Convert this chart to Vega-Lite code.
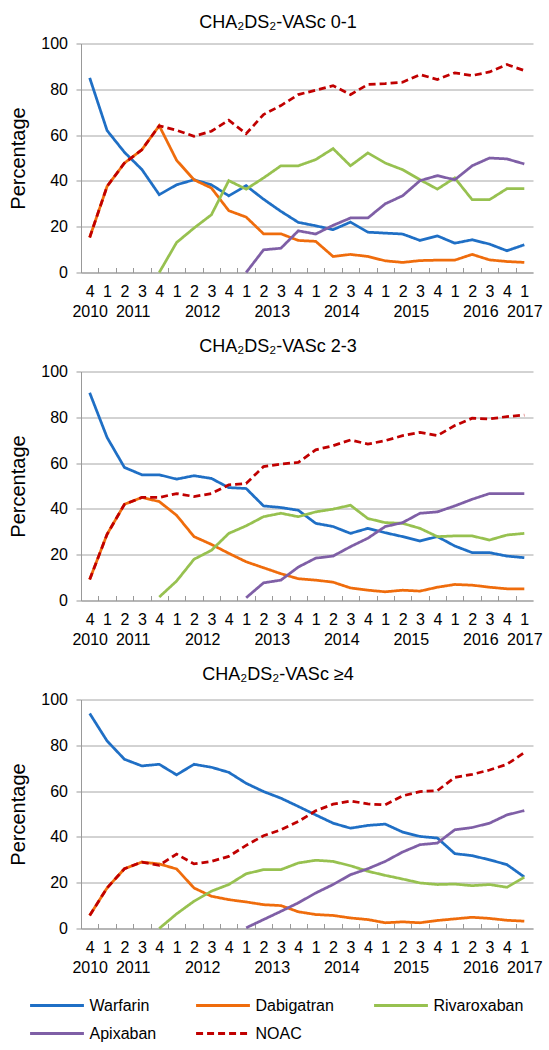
{
  "$schema": "https://vega.github.io/schema/vega-lite/v6.json",
  "autosize": {"type": "none"},
  "padding": {"left": 81, "top": 43.5, "right": 468, "bottom": 1006.5},
  "background": "white",
  "spacing": 99,
  "bounds": "flush",
  "config": {
    "font": "Liberation Sans",
    "view": {"stroke": null},
    "axis": {"labelColor": "#000000", "titleColor": "#000000"},
    "title": {"color": "#000000", "fontWeight": "normal"}
  },
  "datasets": {
    "p1": [
      {"q":"2010Q4","d":"Warfarin","v":85},{"q":"2011Q1","d":"Warfarin","v":62},{"q":"2011Q2","d":"Warfarin","v":52.5},{"q":"2011Q3","d":"Warfarin","v":45},{"q":"2011Q4","d":"Warfarin","v":34},{"q":"2012Q1","d":"Warfarin","v":38.3},{"q":"2012Q2","d":"Warfarin","v":40.5},{"q":"2012Q3","d":"Warfarin","v":38.3},{"q":"2012Q4","d":"Warfarin","v":33.5},{"q":"2013Q1","d":"Warfarin","v":37.9},{"q":"2013Q2","d":"Warfarin","v":32},{"q":"2013Q3","d":"Warfarin","v":26.7},{"q":"2013Q4","d":"Warfarin","v":21.9},{"q":"2014Q1","d":"Warfarin","v":20.4},{"q":"2014Q2","d":"Warfarin","v":18.7},{"q":"2014Q3","d":"Warfarin","v":22},{"q":"2014Q4","d":"Warfarin","v":17.6},{"q":"2015Q1","d":"Warfarin","v":17.2},{"q":"2015Q2","d":"Warfarin","v":16.8},{"q":"2015Q3","d":"Warfarin","v":14},{"q":"2015Q4","d":"Warfarin","v":16},{"q":"2016Q1","d":"Warfarin","v":12.8},{"q":"2016Q2","d":"Warfarin","v":14.3},{"q":"2016Q3","d":"Warfarin","v":12.4},{"q":"2016Q4","d":"Warfarin","v":9.5},{"q":"2017Q1","d":"Warfarin","v":12.1},
      {"q":"2010Q4","d":"Dabigatran","v":15.3},{"q":"2011Q1","d":"Dabigatran","v":37.6},{"q":"2011Q2","d":"Dabigatran","v":47.8},{"q":"2011Q3","d":"Dabigatran","v":53.6},{"q":"2011Q4","d":"Dabigatran","v":64.1},{"q":"2012Q1","d":"Dabigatran","v":49},{"q":"2012Q2","d":"Dabigatran","v":40.5},{"q":"2012Q3","d":"Dabigatran","v":36.9},{"q":"2012Q4","d":"Dabigatran","v":27},{"q":"2013Q1","d":"Dabigatran","v":24.2},{"q":"2013Q2","d":"Dabigatran","v":16.9},{"q":"2013Q3","d":"Dabigatran","v":16.9},{"q":"2013Q4","d":"Dabigatran","v":14},{"q":"2014Q1","d":"Dabigatran","v":13.6},{"q":"2014Q2","d":"Dabigatran","v":7},{"q":"2014Q3","d":"Dabigatran","v":7.9},{"q":"2014Q4","d":"Dabigatran","v":7},{"q":"2015Q1","d":"Dabigatran","v":5.1},{"q":"2015Q2","d":"Dabigatran","v":4.4},{"q":"2015Q3","d":"Dabigatran","v":5.2},{"q":"2015Q4","d":"Dabigatran","v":5.4},{"q":"2016Q1","d":"Dabigatran","v":5.4},{"q":"2016Q2","d":"Dabigatran","v":7.9},{"q":"2016Q3","d":"Dabigatran","v":5.5},{"q":"2016Q4","d":"Dabigatran","v":4.8},{"q":"2017Q1","d":"Dabigatran","v":4.4},
      {"q":"2011Q4","d":"Rivaroxaban","v":0},{"q":"2012Q1","d":"Rivaroxaban","v":13.1},{"q":"2012Q2","d":"Rivaroxaban","v":19.4},{"q":"2012Q3","d":"Rivaroxaban","v":25.2},{"q":"2012Q4","d":"Rivaroxaban","v":40.1},{"q":"2013Q1","d":"Rivaroxaban","v":36.4},{"q":"2013Q2","d":"Rivaroxaban","v":41.3},{"q":"2013Q3","d":"Rivaroxaban","v":46.6},{"q":"2013Q4","d":"Rivaroxaban","v":46.6},{"q":"2014Q1","d":"Rivaroxaban","v":49.3},{"q":"2014Q2","d":"Rivaroxaban","v":54.1},{"q":"2014Q3","d":"Rivaroxaban","v":46.6},{"q":"2014Q4","d":"Rivaroxaban","v":52.2},{"q":"2015Q1","d":"Rivaroxaban","v":47.8},{"q":"2015Q2","d":"Rivaroxaban","v":44.9},{"q":"2015Q3","d":"Rivaroxaban","v":40.5},{"q":"2015Q4","d":"Rivaroxaban","v":36.4},{"q":"2016Q1","d":"Rivaroxaban","v":41.3},{"q":"2016Q2","d":"Rivaroxaban","v":31.8},{"q":"2016Q3","d":"Rivaroxaban","v":31.8},{"q":"2016Q4","d":"Rivaroxaban","v":36.6},{"q":"2017Q1","d":"Rivaroxaban","v":36.6},
      {"q":"2013Q1","d":"Apixaban","v":0},{"q":"2013Q2","d":"Apixaban","v":9.9},{"q":"2013Q3","d":"Apixaban","v":10.6},{"q":"2013Q4","d":"Apixaban","v":18.2},{"q":"2014Q1","d":"Apixaban","v":16.8},{"q":"2014Q2","d":"Apixaban","v":20.6},{"q":"2014Q3","d":"Apixaban","v":23.8},{"q":"2014Q4","d":"Apixaban","v":23.8},{"q":"2015Q1","d":"Apixaban","v":30},{"q":"2015Q2","d":"Apixaban","v":33.5},{"q":"2015Q3","d":"Apixaban","v":40.1},{"q":"2015Q4","d":"Apixaban","v":42.3},{"q":"2016Q1","d":"Apixaban","v":40.5},{"q":"2016Q2","d":"Apixaban","v":46.6},{"q":"2016Q3","d":"Apixaban","v":50},{"q":"2016Q4","d":"Apixaban","v":49.6},{"q":"2017Q1","d":"Apixaban","v":47.4},
      {"q":"2010Q4","d":"NOAC","v":15.3},{"q":"2011Q1","d":"NOAC","v":37.6},{"q":"2011Q2","d":"NOAC","v":47.8},{"q":"2011Q3","d":"NOAC","v":53.6},{"q":"2011Q4","d":"NOAC","v":64.1},{"q":"2012Q1","d":"NOAC","v":62.1},{"q":"2012Q2","d":"NOAC","v":59.5},{"q":"2012Q3","d":"NOAC","v":61.7},{"q":"2012Q4","d":"NOAC","v":66.5},{"q":"2013Q1","d":"NOAC","v":60.6},{"q":"2013Q2","d":"NOAC","v":69},{"q":"2013Q3","d":"NOAC","v":72.9},{"q":"2013Q4","d":"NOAC","v":77.7},{"q":"2014Q1","d":"NOAC","v":79.6},{"q":"2014Q2","d":"NOAC","v":81.6},{"q":"2014Q3","d":"NOAC","v":77.7},{"q":"2014Q4","d":"NOAC","v":82.1},{"q":"2015Q1","d":"NOAC","v":82.5},{"q":"2015Q2","d":"NOAC","v":83.1},{"q":"2015Q3","d":"NOAC","v":86.4},{"q":"2015Q4","d":"NOAC","v":84.3},{"q":"2016Q1","d":"NOAC","v":87.2},{"q":"2016Q2","d":"NOAC","v":86},{"q":"2016Q3","d":"NOAC","v":87.6},{"q":"2016Q4","d":"NOAC","v":90.8},{"q":"2017Q1","d":"NOAC","v":88.2}
    ],
    "p2": [
      {"q":"2010Q4","d":"Warfarin","v":90.7},{"q":"2011Q1","d":"Warfarin","v":71.2},{"q":"2011Q2","d":"Warfarin","v":58.1},{"q":"2011Q3","d":"Warfarin","v":54.9},{"q":"2011Q4","d":"Warfarin","v":54.9},{"q":"2012Q1","d":"Warfarin","v":53},{"q":"2012Q2","d":"Warfarin","v":54.5},{"q":"2012Q3","d":"Warfarin","v":53.3},{"q":"2012Q4","d":"Warfarin","v":49.3},{"q":"2013Q1","d":"Warfarin","v":48.9},{"q":"2013Q2","d":"Warfarin","v":41.3},{"q":"2013Q3","d":"Warfarin","v":40.6},{"q":"2013Q4","d":"Warfarin","v":39.4},{"q":"2014Q1","d":"Warfarin","v":33.7},{"q":"2014Q2","d":"Warfarin","v":32.3},{"q":"2014Q3","d":"Warfarin","v":29.3},{"q":"2014Q4","d":"Warfarin","v":31.5},{"q":"2015Q1","d":"Warfarin","v":29.6},{"q":"2015Q2","d":"Warfarin","v":27.9},{"q":"2015Q3","d":"Warfarin","v":26},{"q":"2015Q4","d":"Warfarin","v":27.9},{"q":"2016Q1","d":"Warfarin","v":23.8},{"q":"2016Q2","d":"Warfarin","v":20.9},{"q":"2016Q3","d":"Warfarin","v":20.9},{"q":"2016Q4","d":"Warfarin","v":19.4},{"q":"2017Q1","d":"Warfarin","v":18.7},
      {"q":"2010Q4","d":"Dabigatran","v":9.2},{"q":"2011Q1","d":"Dabigatran","v":28.9},{"q":"2011Q2","d":"Dabigatran","v":42},{"q":"2011Q3","d":"Dabigatran","v":45},{"q":"2011Q4","d":"Dabigatran","v":43.2},{"q":"2012Q1","d":"Dabigatran","v":37.2},{"q":"2012Q2","d":"Dabigatran","v":27.9},{"q":"2012Q3","d":"Dabigatran","v":24.5},{"q":"2012Q4","d":"Dabigatran","v":20.6},{"q":"2013Q1","d":"Dabigatran","v":16.9},{"q":"2013Q2","d":"Dabigatran","v":14.3},{"q":"2013Q3","d":"Dabigatran","v":11.7},{"q":"2013Q4","d":"Dabigatran","v":9.5},{"q":"2014Q1","d":"Dabigatran","v":8.9},{"q":"2014Q2","d":"Dabigatran","v":8},{"q":"2014Q3","d":"Dabigatran","v":5.5},{"q":"2014Q4","d":"Dabigatran","v":4.5},{"q":"2015Q1","d":"Dabigatran","v":3.8},{"q":"2015Q2","d":"Dabigatran","v":4.5},{"q":"2015Q3","d":"Dabigatran","v":4.1},{"q":"2015Q4","d":"Dabigatran","v":5.8},{"q":"2016Q1","d":"Dabigatran","v":7},{"q":"2016Q2","d":"Dabigatran","v":6.7},{"q":"2016Q3","d":"Dabigatran","v":5.8},{"q":"2016Q4","d":"Dabigatran","v":5.1},{"q":"2017Q1","d":"Dabigatran","v":5.1},
      {"q":"2011Q4","d":"Rivaroxaban","v":1.5},{"q":"2012Q1","d":"Rivaroxaban","v":8.5},{"q":"2012Q2","d":"Rivaroxaban","v":18},{"q":"2012Q3","d":"Rivaroxaban","v":21.9},{"q":"2012Q4","d":"Rivaroxaban","v":29.3},{"q":"2013Q1","d":"Rivaroxaban","v":32.6},{"q":"2013Q2","d":"Rivaroxaban","v":36.6},{"q":"2013Q3","d":"Rivaroxaban","v":38.1},{"q":"2013Q4","d":"Rivaroxaban","v":36.6},{"q":"2014Q1","d":"Rivaroxaban","v":38.7},{"q":"2014Q2","d":"Rivaroxaban","v":39.9},{"q":"2014Q3","d":"Rivaroxaban","v":41.6},{"q":"2014Q4","d":"Rivaroxaban","v":35.8},{"q":"2015Q1","d":"Rivaroxaban","v":34},{"q":"2015Q2","d":"Rivaroxaban","v":33.7},{"q":"2015Q3","d":"Rivaroxaban","v":31.5},{"q":"2015Q4","d":"Rivaroxaban","v":27.9},{"q":"2016Q1","d":"Rivaroxaban","v":28.2},{"q":"2016Q2","d":"Rivaroxaban","v":28.2},{"q":"2016Q3","d":"Rivaroxaban","v":26.4},{"q":"2016Q4","d":"Rivaroxaban","v":28.6},{"q":"2017Q1","d":"Rivaroxaban","v":29.3},
      {"q":"2013Q1","d":"Apixaban","v":1.2},{"q":"2013Q2","d":"Apixaban","v":7.7},{"q":"2013Q3","d":"Apixaban","v":8.9},{"q":"2013Q4","d":"Apixaban","v":14.6},{"q":"2014Q1","d":"Apixaban","v":18.5},{"q":"2014Q2","d":"Apixaban","v":19.4},{"q":"2014Q3","d":"Apixaban","v":23.5},{"q":"2014Q4","d":"Apixaban","v":27.2},{"q":"2015Q1","d":"Apixaban","v":32.3},{"q":"2015Q2","d":"Apixaban","v":34},{"q":"2015Q3","d":"Apixaban","v":38.1},{"q":"2015Q4","d":"Apixaban","v":38.7},{"q":"2016Q1","d":"Apixaban","v":41.3},{"q":"2016Q2","d":"Apixaban","v":44.2},{"q":"2016Q3","d":"Apixaban","v":46.7},{"q":"2016Q4","d":"Apixaban","v":46.7},{"q":"2017Q1","d":"Apixaban","v":46.7},
      {"q":"2010Q4","d":"NOAC","v":9.2},{"q":"2011Q1","d":"NOAC","v":28.9},{"q":"2011Q2","d":"NOAC","v":42},{"q":"2011Q3","d":"NOAC","v":45},{"q":"2011Q4","d":"NOAC","v":45},{"q":"2012Q1","d":"NOAC","v":46.7},{"q":"2012Q2","d":"NOAC","v":45.4},{"q":"2012Q3","d":"NOAC","v":46.7},{"q":"2012Q4","d":"NOAC","v":50.5},{"q":"2013Q1","d":"NOAC","v":51.1},{"q":"2013Q2","d":"NOAC","v":58.5},{"q":"2013Q3","d":"NOAC","v":59.6},{"q":"2013Q4","d":"NOAC","v":60.3},{"q":"2014Q1","d":"NOAC","v":65.8},{"q":"2014Q2","d":"NOAC","v":67.6},{"q":"2014Q3","d":"NOAC","v":70.1},{"q":"2014Q4","d":"NOAC","v":68.3},{"q":"2015Q1","d":"NOAC","v":69.8},{"q":"2015Q2","d":"NOAC","v":72},{"q":"2015Q3","d":"NOAC","v":73.4},{"q":"2015Q4","d":"NOAC","v":72},{"q":"2016Q1","d":"NOAC","v":76.4},{"q":"2016Q2","d":"NOAC","v":79.6},{"q":"2016Q3","d":"NOAC","v":79.3},{"q":"2016Q4","d":"NOAC","v":80.3},{"q":"2017Q1","d":"NOAC","v":81}
    ],
    "p3": [
      {"q":"2010Q4","d":"Warfarin","v":93.9},{"q":"2011Q1","d":"Warfarin","v":81.9},{"q":"2011Q2","d":"Warfarin","v":73.9},{"q":"2011Q3","d":"Warfarin","v":71},{"q":"2011Q4","d":"Warfarin","v":71.7},{"q":"2012Q1","d":"Warfarin","v":67.1},{"q":"2012Q2","d":"Warfarin","v":71.7},{"q":"2012Q3","d":"Warfarin","v":70.4},{"q":"2012Q4","d":"Warfarin","v":68.2},{"q":"2013Q1","d":"Warfarin","v":63.4},{"q":"2013Q2","d":"Warfarin","v":59.8},{"q":"2013Q3","d":"Warfarin","v":56.9},{"q":"2013Q4","d":"Warfarin","v":53.3},{"q":"2014Q1","d":"Warfarin","v":49.6},{"q":"2014Q2","d":"Warfarin","v":46},{"q":"2014Q3","d":"Warfarin","v":43.8},{"q":"2014Q4","d":"Warfarin","v":45},{"q":"2015Q1","d":"Warfarin","v":45.6},{"q":"2015Q2","d":"Warfarin","v":42.1},{"q":"2015Q3","d":"Warfarin","v":40.2},{"q":"2015Q4","d":"Warfarin","v":39.5},{"q":"2016Q1","d":"Warfarin","v":32.7},{"q":"2016Q2","d":"Warfarin","v":31.8},{"q":"2016Q3","d":"Warfarin","v":30},{"q":"2016Q4","d":"Warfarin","v":27.9},{"q":"2017Q1","d":"Warfarin","v":22.5},
      {"q":"2010Q4","d":"Dabigatran","v":5.7},{"q":"2011Q1","d":"Dabigatran","v":17.7},{"q":"2011Q2","d":"Dabigatran","v":26.1},{"q":"2011Q3","d":"Dabigatran","v":29},{"q":"2011Q4","d":"Dabigatran","v":28.2},{"q":"2012Q1","d":"Dabigatran","v":26},{"q":"2012Q2","d":"Dabigatran","v":17.7},{"q":"2012Q3","d":"Dabigatran","v":14.1},{"q":"2012Q4","d":"Dabigatran","v":12.6},{"q":"2013Q1","d":"Dabigatran","v":11.6},{"q":"2013Q2","d":"Dabigatran","v":10.4},{"q":"2013Q3","d":"Dabigatran","v":10},{"q":"2013Q4","d":"Dabigatran","v":7.3},{"q":"2014Q1","d":"Dabigatran","v":6.1},{"q":"2014Q2","d":"Dabigatran","v":5.7},{"q":"2014Q3","d":"Dabigatran","v":4.6},{"q":"2014Q4","d":"Dabigatran","v":3.9},{"q":"2015Q1","d":"Dabigatran","v":2.5},{"q":"2015Q2","d":"Dabigatran","v":2.9},{"q":"2015Q3","d":"Dabigatran","v":2.5},{"q":"2015Q4","d":"Dabigatran","v":3.5},{"q":"2016Q1","d":"Dabigatran","v":4.2},{"q":"2016Q2","d":"Dabigatran","v":4.9},{"q":"2016Q3","d":"Dabigatran","v":4.4},{"q":"2016Q4","d":"Dabigatran","v":3.6},{"q":"2017Q1","d":"Dabigatran","v":3.2},
      {"q":"2011Q4","d":"Rivaroxaban","v":0},{"q":"2012Q1","d":"Rivaroxaban","v":6.4},{"q":"2012Q2","d":"Rivaroxaban","v":11.9},{"q":"2012Q3","d":"Rivaroxaban","v":16.3},{"q":"2012Q4","d":"Rivaroxaban","v":19.2},{"q":"2013Q1","d":"Rivaroxaban","v":23.9},{"q":"2013Q2","d":"Rivaroxaban","v":25.7},{"q":"2013Q3","d":"Rivaroxaban","v":25.7},{"q":"2013Q4","d":"Rivaroxaban","v":28.6},{"q":"2014Q1","d":"Rivaroxaban","v":29.8},{"q":"2014Q2","d":"Rivaroxaban","v":29.3},{"q":"2014Q3","d":"Rivaroxaban","v":27.4},{"q":"2014Q4","d":"Rivaroxaban","v":25},{"q":"2015Q1","d":"Rivaroxaban","v":23.2},{"q":"2015Q2","d":"Rivaroxaban","v":21.6},{"q":"2015Q3","d":"Rivaroxaban","v":19.9},{"q":"2015Q4","d":"Rivaroxaban","v":19.2},{"q":"2016Q1","d":"Rivaroxaban","v":19.4},{"q":"2016Q2","d":"Rivaroxaban","v":18.7},{"q":"2016Q3","d":"Rivaroxaban","v":19.2},{"q":"2016Q4","d":"Rivaroxaban","v":18},{"q":"2017Q1","d":"Rivaroxaban","v":22.4},
      {"q":"2013Q1","d":"Apixaban","v":0.3},{"q":"2013Q2","d":"Apixaban","v":3.9},{"q":"2013Q3","d":"Apixaban","v":7.5},{"q":"2013Q4","d":"Apixaban","v":11.2},{"q":"2014Q1","d":"Apixaban","v":15.5},{"q":"2014Q2","d":"Apixaban","v":19.2},{"q":"2014Q3","d":"Apixaban","v":23.5},{"q":"2014Q4","d":"Apixaban","v":26.1},{"q":"2015Q1","d":"Apixaban","v":29.3},{"q":"2015Q2","d":"Apixaban","v":33.4},{"q":"2015Q3","d":"Apixaban","v":36.6},{"q":"2015Q4","d":"Apixaban","v":37.3},{"q":"2016Q1","d":"Apixaban","v":43.1},{"q":"2016Q2","d":"Apixaban","v":44.1},{"q":"2016Q3","d":"Apixaban","v":46},{"q":"2016Q4","d":"Apixaban","v":49.6},{"q":"2017Q1","d":"Apixaban","v":51.5},
      {"q":"2010Q4","d":"NOAC","v":5.7},{"q":"2011Q1","d":"NOAC","v":17.7},{"q":"2011Q2","d":"NOAC","v":26.1},{"q":"2011Q3","d":"NOAC","v":29},{"q":"2011Q4","d":"NOAC","v":27.6},{"q":"2012Q1","d":"NOAC","v":32.5},{"q":"2012Q2","d":"NOAC","v":28.2},{"q":"2012Q3","d":"NOAC","v":29.3},{"q":"2012Q4","d":"NOAC","v":31.5},{"q":"2013Q1","d":"NOAC","v":36.3},{"q":"2013Q2","d":"NOAC","v":40.5},{"q":"2013Q3","d":"NOAC","v":43.1},{"q":"2013Q4","d":"NOAC","v":46.7},{"q":"2014Q1","d":"NOAC","v":51.4},{"q":"2014Q2","d":"NOAC","v":54.3},{"q":"2014Q3","d":"NOAC","v":55.7},{"q":"2014Q4","d":"NOAC","v":54.4},{"q":"2015Q1","d":"NOAC","v":54},{"q":"2015Q2","d":"NOAC","v":57.9},{"q":"2015Q3","d":"NOAC","v":59.8},{"q":"2015Q4","d":"NOAC","v":60.2},{"q":"2016Q1","d":"NOAC","v":66},{"q":"2016Q2","d":"NOAC","v":67.3},{"q":"2016Q3","d":"NOAC","v":69.2},{"q":"2016Q4","d":"NOAC","v":71.7},{"q":"2017Q1","d":"NOAC","v":76.8}
    ]
  },
  "resolve": {"scale": {"x": "independent", "y": "independent", "color": "independent", "strokeDash": "independent"}},
  "vconcat": [
    {
      "width": 452, "height": 229,
      "title": {"text": "CHA₂DS₂-VASc 0-1", "fontSize": 18, "anchor": "middle", "frame": "group", "offset": 4, "dx": -29},
      "data": {"name": "p1"},
      "resolve": {"axis": {"x": "independent"}},
      "layer": [
        {
          "mark": {"type": "line", "strokeWidth": 2.75},
          "encoding": {
            "x": {"field": "q", "type": "ordinal",
              "scale": {"type": "band", "paddingInner": 0, "paddingOuter": 0},
              "axis": {"orient": "bottom", "title": null, "labelExpr": "[slice(datum.value, 5), (datum.value == '2010Q4' || datum.value == '2017Q1') ? slice(datum.value, 0, 4) : '']", "labelLineHeight": 20, "labelAngle": 0, "labelOverlap": false, "tickOffset": -8.69, "labelOffset": 8.69, "tickSize": -5, "tickColor": "#999999", "domainColor": "#999999", "labelPadding": 16, "labelFontSize": 16, "grid": false}},
            "y": {"field": "v", "type": "quantitative",
              "scale": {"domain": [0, 100]},
              "axis": {"orient": "left", "tickCount": 5, "tickSize": 5, "labelPadding": 8.5, "labelFontSize": 16, "title": "Percentage", "titleFontSize": 20, "titleFontWeight": "normal", "titlePadding": 12, "grid": true, "gridColor": "#a6a6a6", "domainColor": "#999999", "tickColor": "#999999"}},
            "color": {"field": "d", "type": "nominal", "scale": {"domain": ["Warfarin","Dabigatran","Rivaroxaban","Apixaban","NOAC"], "range": ["#1f6fc5","#ef6c0c","#97c150","#7f5fa6","#c00000"]}, "legend": null},
            "strokeDash": {"field": "d", "type": "nominal", "scale": {"domain": ["Warfarin","Dabigatran","Rivaroxaban","Apixaban","NOAC"], "range": [[1,0],[1,0],[1,0],[1,0],[7,4]]}, "legend": null}
          }
        },
        {
          "mark": {"type": "line", "opacity": 0},
          "encoding": {
            "x": {"field": "q", "type": "ordinal",
              "axis": {"orient": "bottom", "title": null, "labelExpr": "slice(datum.value, 4) == 'Q2' ? slice(datum.value, 0, 4) : ''", "labelAngle": 0, "labelOverlap": false, "domain": false, "ticks": false, "tickSize": 0, "grid": false, "labelPadding": 31, "labelOffset": 8.69, "labelFontSize": 16}},
            "y": {"field": "v", "type": "quantitative"},
            "detail": {"field": "d", "type": "nominal"}
          }
        }
      ]
    },
    {
      "width": 452, "height": 229,
      "title": {"text": "CHA₂DS₂-VASc 2-3", "fontSize": 18, "anchor": "middle", "frame": "group", "offset": 8, "dx": -29},
      "data": {"name": "p2"},
      "resolve": {"axis": {"x": "independent"}},
      "layer": [
        {
          "mark": {"type": "line", "strokeWidth": 2.75},
          "encoding": {
            "x": {"field": "q", "type": "ordinal",
              "scale": {"type": "band", "paddingInner": 0, "paddingOuter": 0},
              "axis": {"orient": "bottom", "title": null, "labelExpr": "[slice(datum.value, 5), (datum.value == '2010Q4' || datum.value == '2017Q1') ? slice(datum.value, 0, 4) : '']", "labelLineHeight": 20, "labelAngle": 0, "labelOverlap": false, "tickOffset": -8.69, "labelOffset": 8.69, "tickSize": -5, "tickColor": "#999999", "domainColor": "#999999", "labelPadding": 16, "labelFontSize": 16, "grid": false}},
            "y": {"field": "v", "type": "quantitative",
              "scale": {"domain": [0, 100]},
              "axis": {"orient": "left", "tickCount": 5, "tickSize": 5, "labelPadding": 8.5, "labelFontSize": 16, "title": "Percentage", "titleFontSize": 20, "titleFontWeight": "normal", "titlePadding": 12, "grid": true, "gridColor": "#a6a6a6", "domainColor": "#999999", "tickColor": "#999999"}},
            "color": {"field": "d", "type": "nominal", "scale": {"domain": ["Warfarin","Dabigatran","Rivaroxaban","Apixaban","NOAC"], "range": ["#1f6fc5","#ef6c0c","#97c150","#7f5fa6","#c00000"]}, "legend": null},
            "strokeDash": {"field": "d", "type": "nominal", "scale": {"domain": ["Warfarin","Dabigatran","Rivaroxaban","Apixaban","NOAC"], "range": [[1,0],[1,0],[1,0],[1,0],[7,4]]}, "legend": null}
          }
        },
        {
          "mark": {"type": "line", "opacity": 0},
          "encoding": {
            "x": {"field": "q", "type": "ordinal",
              "axis": {"orient": "bottom", "title": null, "labelExpr": "slice(datum.value, 4) == 'Q2' ? slice(datum.value, 0, 4) : ''", "labelAngle": 0, "labelOverlap": false, "domain": false, "ticks": false, "tickSize": 0, "grid": false, "labelPadding": 31, "labelOffset": 8.69, "labelFontSize": 16}},
            "y": {"field": "v", "type": "quantitative"},
            "detail": {"field": "d", "type": "nominal"}
          }
        }
      ]
    },
    {
      "width": 452, "height": 229,
      "title": {"text": "CHA₂DS₂-VASc ≥4", "fontSize": 18, "anchor": "middle", "frame": "group", "offset": 8, "dx": -29},
      "data": {"name": "p3"},
      "resolve": {"axis": {"x": "independent"}},
      "layer": [
        {
          "mark": {"type": "line", "strokeWidth": 2.75},
          "encoding": {
            "x": {"field": "q", "type": "ordinal",
              "scale": {"type": "band", "paddingInner": 0, "paddingOuter": 0},
              "axis": {"orient": "bottom", "title": null, "labelExpr": "[slice(datum.value, 5), (datum.value == '2010Q4' || datum.value == '2017Q1') ? slice(datum.value, 0, 4) : '']", "labelLineHeight": 20, "labelAngle": 0, "labelOverlap": false, "tickOffset": -8.69, "labelOffset": 8.69, "tickSize": -5, "tickColor": "#999999", "domainColor": "#999999", "labelPadding": 16, "labelFontSize": 16, "grid": false}},
            "y": {"field": "v", "type": "quantitative",
              "scale": {"domain": [0, 100]},
              "axis": {"orient": "left", "tickCount": 5, "tickSize": 5, "labelPadding": 8.5, "labelFontSize": 16, "title": "Percentage", "titleFontSize": 20, "titleFontWeight": "normal", "titlePadding": 12, "grid": true, "gridColor": "#a6a6a6", "domainColor": "#999999", "tickColor": "#999999"}},
            "color": {"field": "d", "type": "nominal", "scale": {"domain": ["Warfarin","Dabigatran","Rivaroxaban","Apixaban","NOAC"], "range": ["#1f6fc5","#ef6c0c","#97c150","#7f5fa6","#c00000"]},
              "legend": {"orient": "none", "direction": "horizontal", "legendX": -52.5, "legendY": 298, "title": null, "columns": 3, "columnPadding": 38, "rowPadding": 12, "clipHeight": 16, "padding": 0, "symbolType": "stroke", "symbolSize": 2900, "symbolStrokeWidth": 3, "labelFontSize": 16, "labelOffset": 4, "labelColor": "#000000", "labelLimit": 200}},
            "strokeDash": {"field": "d", "type": "nominal", "scale": {"domain": ["Warfarin","Dabigatran","Rivaroxaban","Apixaban","NOAC"], "range": [[1,0],[1,0],[1,0],[1,0],[7,4]]}}
          }
        },
        {
          "mark": {"type": "line", "opacity": 0},
          "encoding": {
            "x": {"field": "q", "type": "ordinal",
              "axis": {"orient": "bottom", "title": null, "labelExpr": "slice(datum.value, 4) == 'Q2' ? slice(datum.value, 0, 4) : ''", "labelAngle": 0, "labelOverlap": false, "domain": false, "ticks": false, "tickSize": 0, "grid": false, "labelPadding": 31, "labelOffset": 8.69, "labelFontSize": 16}},
            "y": {"field": "v", "type": "quantitative"},
            "detail": {"field": "d", "type": "nominal"}
          }
        }
      ]
    }
  ]
}
